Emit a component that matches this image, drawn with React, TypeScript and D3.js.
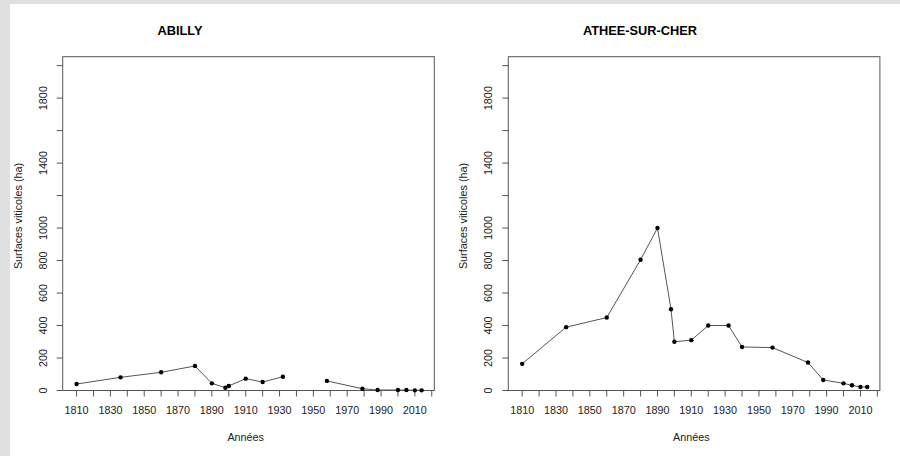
import React, { useEffect, useRef } from 'react';
import * as d3 from 'd3';

// Years of the surveys (shared by both communes)
const years = [1810, 1836, 1860, 1880, 1890, 1898, 1900, 1910, 1920, 1932, 1940, 1958, 1979, 1988, 2000, 2005, 2010, 2014];

// Surfaces viticoles (ha); null = no value (line break)
const abilly = [40, 81, 112, 151, 44, 17, 28, 73, 52, 85, null, 59, 11, 3, 3, 3, 1, 1];
const atheeSurCher = [164, 390, 449, 805, 1000, 500, 300, 310, 400, 400, 268, 264, 172, 65, 44, 32, 22, 22];

const xTicks = d3.range(1810, 2021, 10);
const xLabels = d3.range(1810, 2011, 20);
const yTicks = d3.range(0, 2001, 200);
const yLabels = [0, 200, 400, 600, 800, 1000, 1400, 1800];

const panels = [
  { title: 'ABILLY', values: abilly, left: 62.7, titleX: 180 },
  { title: 'ATHEE-SUR-CHER', values: atheeSurCher, left: 508.3, titleX: 640 },
];

const font = '"Liberation Sans", Arial, Helvetica, sans-serif';

const App: React.FC = () => {
  const svgRef = useRef<SVGSVGElement>(null);

  useEffect(() => {
    if (!svgRef.current) return;
    const svg = d3.select(svgRef.current);
    svg.selectAll('*').remove();

    // Background frame
    svg.append('rect').attr('width', 900).attr('height', 456).attr('fill', '#dfe0e1');
    svg.append('rect').attr('x', 10).attr('y', 4).attr('width', 890).attr('height', 452).attr('fill', '#ffffff');

    const top = 56.7;
    const bottom = 390.5;
    const boxWidth = 371.6;

    panels.forEach((p) => {
      const x = d3.scaleLinear().domain([1801.8, 2021.5]).range([p.left, p.left + boxWidth]);
      const y = d3.scaleLinear().domain([0, 2055]).range([bottom, top]);
      const g = svg.append('g');

      // Title
      g.append('text')
        .attr('x', p.titleX)
        .attr('y', 34.5)
        .attr('text-anchor', 'middle')
        .style('font-family', font)
        .style('font-size', '12.8px')
        .style('font-weight', 'bold')
        .text(p.title);

      // Box
      g.append('rect')
        .attr('x', p.left)
        .attr('y', top)
        .attr('width', boxWidth)
        .attr('height', bottom - top)
        .attr('fill', 'none')
        .attr('stroke', '#555')
        .attr('stroke-width', 1);

      // X axis
      g.selectAll('.xtick')
        .data(xTicks)
        .enter()
        .append('line')
        .attr('x1', (d) => x(d))
        .attr('x2', (d) => x(d))
        .attr('y1', bottom)
        .attr('y2', bottom + 6)
        .attr('stroke', '#555');

      g.selectAll('.xlabel')
        .data(xLabels)
        .enter()
        .append('text')
        .attr('x', (d) => x(d))
        .attr('y', 414)
        .attr('text-anchor', 'middle')
        .style('font-family', font)
        .style('font-size', '10.8px')
        .attr('fill', '#222')
        .text((d) => d);

      g.append('text')
        .attr('x', (x(1810) + x(2010)) / 2)
        .attr('y', 440.5)
        .attr('text-anchor', 'middle')
        .style('font-family', font)
        .style('font-size', '10.8px')
        .attr('fill', '#222')
        .text('Années');

      // Y axis
      g.selectAll('.ytick')
        .data(yTicks)
        .enter()
        .append('line')
        .attr('x1', p.left - 6)
        .attr('x2', p.left)
        .attr('y1', (d) => y(d))
        .attr('y2', (d) => y(d))
        .attr('stroke', '#555');

      g.selectAll('.ylabel')
        .data(yLabels)
        .enter()
        .append('text')
        .attr('transform', (d) => `translate(${p.left - 16},${y(d)}) rotate(-90)`)
        .attr('text-anchor', 'middle')
        .style('font-family', font)
        .style('font-size', '10.8px')
        .attr('fill', '#222')
        .text((d) => d);

      g.append('text')
        .attr('transform', `translate(${p.left - 41},216) rotate(-90)`)
        .attr('text-anchor', 'middle')
        .style('font-family', font)
        .style('font-size', '10.8px')
        .attr('fill', '#222')
        .text('Surfaces viticoles (ha)');

      // Series
      const points = years.map((yr, i) => ({ year: yr, value: p.values[i] }));
      const line = d3
        .line<{ year: number; value: number | null }>()
        .defined((d) => d.value !== null)
        .x((d) => x(d.year))
        .y((d) => y(d.value as number));

      g.append('path')
        .datum(points)
        .attr('d', line)
        .attr('fill', 'none')
        .attr('stroke', '#555')
        .attr('stroke-width', 1);

      g.selectAll('.pt')
        .data(points.filter((d) => d.value !== null))
        .enter()
        .append('circle')
        .attr('cx', (d) => x(d.year))
        .attr('cy', (d) => y(d.value as number))
        .attr('r', 2.2)
        .attr('fill', '#000');
    });
  }, []);

  return (
    <svg
      ref={svgRef}
      width={900}
      height={456}
      style={{ position: 'absolute', left: 0, top: 0 }}
    ></svg>
  );
};

export default App;
